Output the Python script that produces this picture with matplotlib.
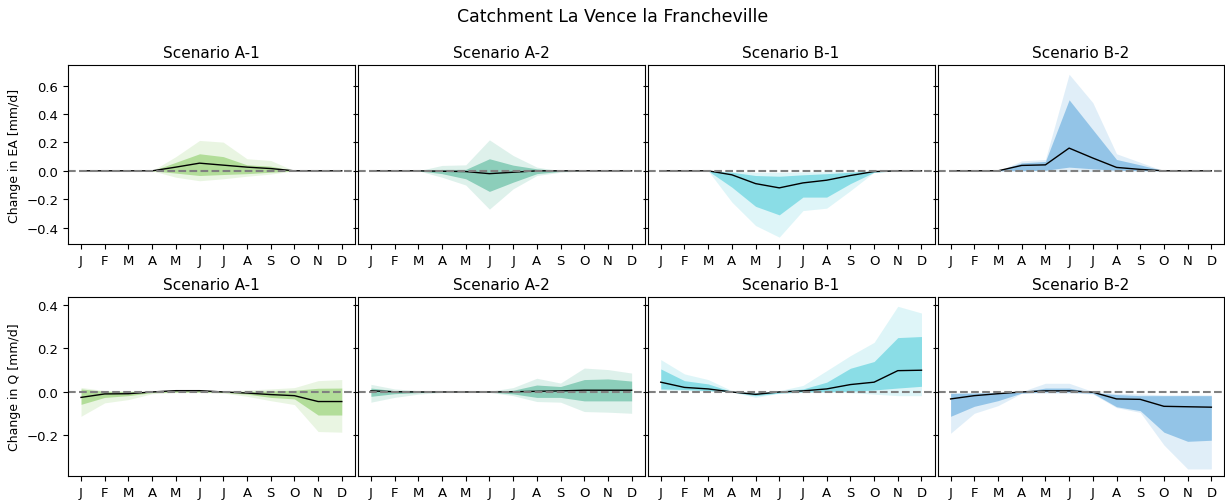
import numpy as np
import matplotlib
matplotlib.use('Agg')
import matplotlib.pyplot as plt
from matplotlib.ticker import MultipleLocator

months = ['J', 'F', 'M', 'A', 'M', 'J', 'J', 'A', 'S', 'O', 'N', 'D']
scenarios = ['Scenario A-1', 'Scenario A-2', 'Scenario B-1', 'Scenario B-2']
colors = ['#66bd35', '#1b9e77', '#17becf', '#2a8bd1']

# Change in EA [mm/d]: median, inner band (lo/hi), outer band (lo/hi)
ea_med = [
    [0, 0, 0, 0, 0.026, 0.054, 0.040, 0.026, 0.016, 0, 0, 0],
    [0, 0, 0, -0.003, -0.005, -0.020, -0.010, 0, 0, 0, 0, 0],
    [0, 0, 0, -0.028, -0.090, -0.120, -0.085, -0.066, -0.033, -0.005, 0, 0],
    [0, 0, 0, 0.038, 0.042, 0.160, 0.090, 0.024, 0.010, 0, 0, 0],
]
ea_in_lo = [
    [0, 0, 0, 0, -0.016, -0.033, -0.026, -0.020, -0.010, 0, 0, 0],
    [0, 0, 0, -0.020, -0.056, -0.145, -0.080, -0.020, -0.004, 0, 0, 0],
    [0, 0, 0, -0.115, -0.250, -0.310, -0.185, -0.185, -0.090, -0.010, 0, 0],
    [0, 0, 0, 0, 0.004, 0.026, 0.014, 0.004, 0, 0, 0, 0],
]
ea_in_hi = [
    [0, 0, 0, 0, 0.060, 0.120, 0.100, 0.042, 0.033, 0, 0, 0],
    [0, 0, 0, 0.010, 0.010, 0.085, 0.040, 0.014, 0, 0, 0, 0],
    [0, 0, 0, -0.010, -0.033, -0.038, -0.028, -0.020, -0.010, 0, 0, 0],
    [0, 0, 0, 0.056, 0.066, 0.500, 0.290, 0.080, 0.042, 0, 0, 0],
]
ea_out_lo = [
    [0, 0, 0, 0, -0.045, -0.070, -0.056, -0.038, -0.023, 0, 0, 0],
    [0, 0, 0, -0.045, -0.100, -0.270, -0.127, -0.033, -0.010, 0, 0, 0],
    [0, 0, 0, -0.220, -0.385, -0.467, -0.280, -0.263, -0.140, -0.010, 0, 0],
    [0, 0, 0, 0, -0.002, -0.005, -0.004, -0.002, 0, 0, 0, 0],
]
ea_out_hi = [
    [0, 0, 0, 0, 0.100, 0.214, 0.202, 0.085, 0.073, 0, 0, 0],
    [0, 0, 0, 0.038, 0.042, 0.218, 0.108, 0.026, 0, 0, 0, 0],
    [0, 0, 0, -0.004, -0.010, -0.010, -0.008, -0.006, -0.004, 0, 0, 0],
    [0, 0, 0, 0.070, 0.080, 0.680, 0.480, 0.120, 0.060, 0, 0, 0],
]

# Change in Q [mm/d]
q_med = [
    [-0.025, -0.009, -0.008, 0, 0.006, 0.006, 0, -0.005, -0.012, -0.017, -0.044, -0.044],
    [0.005, 0.001, 0, 0, 0, 0, 0.001, 0.003, 0.005, 0.008, 0.008, 0.008],
    [0.045, 0.021, 0.014, 0, -0.011, 0, 0.005, 0.014, 0.034, 0.045, 0.098, 0.100],
    [-0.032, -0.017, -0.008, 0, 0.005, 0.005, -0.001, -0.032, -0.034, -0.066, -0.068, -0.070],
]
q_in_lo = [
    [-0.057, -0.025, -0.017, -0.003, -0.001, -0.001, -0.002, -0.010, -0.025, -0.032, -0.106, -0.106],
    [-0.020, -0.008, -0.003, 0, 0, 0, -0.009, -0.025, -0.025, -0.041, -0.041, -0.041],
    [0.014, 0.011, 0.006, 0, -0.017, -0.005, 0, 0.001, 0.003, 0.009, 0.018, 0.026],
    [-0.112, -0.066, -0.040, -0.005, 0, 0, -0.006, -0.068, -0.086, -0.185, -0.227, -0.222],
]
q_in_hi = [
    [0.014, 0.003, 0.002, 0, 0.009, 0.009, 0.002, 0.002, 0.005, 0.008, 0.017, 0.018],
    [0.018, 0.006, 0.003, 0, 0, 0.001, 0.008, 0.032, 0.025, 0.057, 0.060, 0.050],
    [0.106, 0.052, 0.037, 0.002, -0.005, 0.003, 0.014, 0.045, 0.109, 0.140, 0.250, 0.255],
    [-0.006, -0.005, -0.003, 0, 0.018, 0.018, -0.003, -0.012, -0.017, -0.017, -0.017, -0.017],
]
q_out_lo = [
    [-0.112, -0.050, -0.035, -0.008, -0.002, -0.002, -0.005, -0.020, -0.040, -0.058, -0.182, -0.185],
    [-0.047, -0.025, -0.010, -0.002, -0.002, -0.002, -0.017, -0.044, -0.047, -0.090, -0.093, -0.098],
    [0.009, 0.006, 0.003, 0, -0.025, -0.006, -0.002, -0.002, -0.003, -0.010, -0.017, -0.017],
    [-0.190, -0.098, -0.063, -0.006, -0.005, -0.005, -0.009, -0.072, -0.094, -0.244, -0.354, -0.354],
]
q_out_hi = [
    [0.021, 0.006, 0.006, 0.002, 0.010, 0.010, 0.003, 0.009, 0.014, 0.020, 0.052, 0.057],
    [0.035, 0.014, 0.006, 0, 0, 0.003, 0.020, 0.063, 0.041, 0.110, 0.103, 0.087],
    [0.149, 0.083, 0.057, 0.006, -0.002, 0.006, 0.030, 0.098, 0.167, 0.228, 0.394, 0.363],
    [-0.005, -0.003, -0.002, 0.002, 0.040, 0.040, 0.002, -0.006, -0.009, -0.014, -0.014, -0.014],
]

x = np.arange(12)

fig, axes = plt.subplots(2, 4, figsize=(12.25, 5.02), dpi=100, sharey='row')
fig.subplots_adjust(left=0.0555, right=0.9995, top=0.8685, bottom=0.05,
                    wspace=0.0105, hspace=0.296)

rows = [
    (ea_med, ea_in_lo, ea_in_hi, ea_out_lo, ea_out_hi, 'Change in EA [mm/d]', (-0.515, 0.745)),
    (q_med, q_in_lo, q_in_hi, q_out_lo, q_out_hi, 'Change in Q [mm/d]', (-0.386, 0.437)),
]

for r, (med, ilo, ihi, olo, ohi, ylab, ylim) in enumerate(rows):
    for c in range(4):
        ax = axes[r, c]
        col = colors[c]
        ax.fill_between(x, olo[c], ohi[c], color=col, alpha=0.14, lw=0)
        ax.fill_between(x, ilo[c], ihi[c], color=col, alpha=0.42, lw=0)
        ax.plot(x, med[c], color='black', lw=1)
        ax.axhline(0, ls='--', color='gray', lw=1.5)
        ax.set_title(scenarios[c], fontsize=11)
        ax.set_xticks(x)
        ax.set_xticklabels(months)
        ax.tick_params(labelsize=9.5)
        ax.yaxis.set_major_locator(MultipleLocator(0.2))
    axes[r, 0].set_ylim(*ylim)
    axes[r, 0].set_ylabel(ylab, fontsize=9)

fig.suptitle('Catchment La Vence la Francheville', fontsize=12.5, y=0.985)
fig.savefig('out.png', dpi=100)
